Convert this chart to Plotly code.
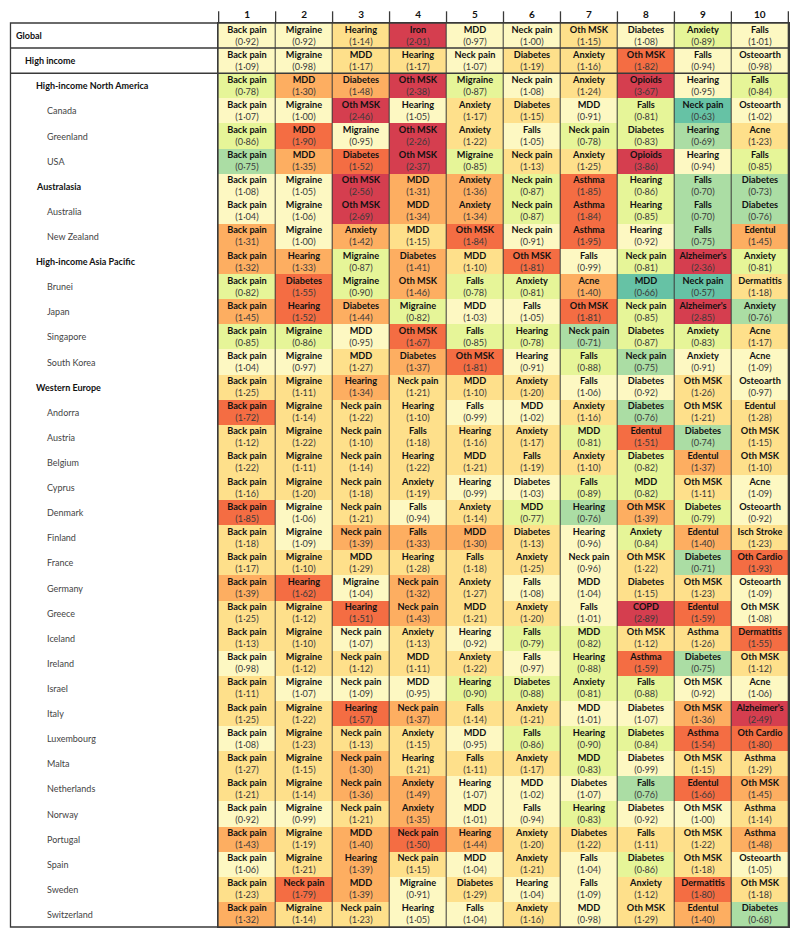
import numpy as np
import plotly.graph_objects as go

rows = [
    "Global", "High income", "High-income North America", "Canada", "Greenland", "USA",
    "Australasia", "Australia", "New Zealand", "High-income Asia Pacific", "Brunei", "Japan",
    "Singapore", "South Korea", "Western Europe", "Andorra", "Austria", "Belgium", "Cyprus",
    "Denmark", "Finland", "France", "Germany", "Greece", "Iceland", "Ireland", "Israel",
    "Italy", "Luxembourg", "Malta", "Netherlands", "Norway", "Portugal", "Spain", "Sweden",
    "Switzerland",
]
levels = [0, 1, 2, 3, 3, 3, 2, 3, 3, 2, 3, 3, 3, 3, 2] + [3] * 21

causes = [
    ["Back pain", "Migraine", "Hearing", "Iron", "MDD", "Neck pain", "Oth MSK", "Diabetes", "Anxiety", "Falls"],
    ["Back pain", "Migraine", "MDD", "Hearing", "Neck pain", "Diabetes", "Anxiety", "Oth MSK", "Falls", "Osteoarth"],
    ["Back pain", "MDD", "Diabetes", "Oth MSK", "Migraine", "Neck pain", "Anxiety", "Opioids", "Hearing", "Falls"],
    ["Back pain", "Migraine", "Oth MSK", "Hearing", "Anxiety", "Diabetes", "MDD", "Falls", "Neck pain", "Osteoarth"],
    ["Back pain", "MDD", "Migraine", "Oth MSK", "Anxiety", "Falls", "Neck pain", "Diabetes", "Hearing", "Acne"],
    ["Back pain", "MDD", "Diabetes", "Oth MSK", "Migraine", "Neck pain", "Anxiety", "Opioids", "Hearing", "Falls"],
    ["Back pain", "Migraine", "Oth MSK", "MDD", "Anxiety", "Neck pain", "Asthma", "Hearing", "Falls", "Diabetes"],
    ["Back pain", "Migraine", "Oth MSK", "MDD", "Anxiety", "Neck pain", "Asthma", "Hearing", "Falls", "Diabetes"],
    ["Back pain", "Migraine", "Anxiety", "MDD", "Oth MSK", "Neck pain", "Asthma", "Hearing", "Falls", "Edentul"],
    ["Back pain", "Hearing", "Migraine", "Diabetes", "MDD", "Oth MSK", "Falls", "Neck pain", "Alzheimer's", "Anxiety"],
    ["Back pain", "Diabetes", "Migraine", "Oth MSK", "Falls", "Anxiety", "Acne", "MDD", "Neck pain", "Dermatitis"],
    ["Back pain", "Hearing", "Diabetes", "Migraine", "MDD", "Falls", "Oth MSK", "Neck pain", "Alzheimer's", "Anxiety"],
    ["Back pain", "Migraine", "MDD", "Oth MSK", "Falls", "Hearing", "Neck pain", "Diabetes", "Anxiety", "Acne"],
    ["Back pain", "Migraine", "MDD", "Diabetes", "Oth MSK", "Hearing", "Falls", "Neck pain", "Anxiety", "Acne"],
    ["Back pain", "Migraine", "Hearing", "Neck pain", "MDD", "Anxiety", "Falls", "Diabetes", "Oth MSK", "Osteoarth"],
    ["Back pain", "Migraine", "Neck pain", "Hearing", "Falls", "MDD", "Anxiety", "Diabetes", "Oth MSK", "Edentul"],
    ["Back pain", "Migraine", "Neck pain", "Falls", "Hearing", "Anxiety", "MDD", "Edentul", "Diabetes", "Oth MSK"],
    ["Back pain", "Migraine", "Neck pain", "Hearing", "MDD", "Falls", "Anxiety", "Diabetes", "Edentul", "Oth MSK"],
    ["Back pain", "Migraine", "Neck pain", "Anxiety", "Hearing", "Diabetes", "Falls", "MDD", "Oth MSK", "Acne"],
    ["Back pain", "Migraine", "Neck pain", "Falls", "Anxiety", "MDD", "Hearing", "Oth MSK", "Diabetes", "Osteoarth"],
    ["Back pain", "Migraine", "Neck pain", "Falls", "MDD", "Diabetes", "Hearing", "Anxiety", "Edentul", "Isch Stroke"],
    ["Back pain", "Migraine", "MDD", "Hearing", "Falls", "Anxiety", "Neck pain", "Oth MSK", "Diabetes", "Oth Cardio"],
    ["Back pain", "Hearing", "Migraine", "Neck pain", "Anxiety", "Falls", "MDD", "Diabetes", "Oth MSK", "Osteoarth"],
    ["Back pain", "Migraine", "Hearing", "Neck pain", "MDD", "Anxiety", "Falls", "COPD", "Edentul", "Oth MSK"],
    ["Back pain", "Migraine", "Neck pain", "Anxiety", "Hearing", "Falls", "MDD", "Oth MSK", "Asthma", "Dermatitis"],
    ["Back pain", "Migraine", "Neck pain", "MDD", "Anxiety", "Falls", "Hearing", "Asthma", "Diabetes", "Oth MSK"],
    ["Back pain", "Migraine", "Neck pain", "MDD", "Hearing", "Diabetes", "Anxiety", "Falls", "Oth MSK", "Acne"],
    ["Back pain", "Migraine", "Hearing", "Neck pain", "Falls", "Anxiety", "MDD", "Diabetes", "Oth MSK", "Alzheimer's"],
    ["Back pain", "Migraine", "Neck pain", "Anxiety", "MDD", "Falls", "Hearing", "Diabetes", "Asthma", "Oth Cardio"],
    ["Back pain", "Migraine", "Neck pain", "Hearing", "Falls", "Anxiety", "MDD", "Diabetes", "Oth MSK", "Asthma"],
    ["Back pain", "Migraine", "Neck pain", "Anxiety", "Hearing", "MDD", "Diabetes", "Falls", "Edentul", "Oth MSK"],
    ["Back pain", "Migraine", "Neck pain", "Anxiety", "MDD", "Falls", "Hearing", "Diabetes", "Oth MSK", "Asthma"],
    ["Back pain", "Migraine", "MDD", "Neck pain", "Hearing", "Anxiety", "Diabetes", "Falls", "Oth MSK", "Asthma"],
    ["Back pain", "Migraine", "Hearing", "Neck pain", "MDD", "Anxiety", "Falls", "Diabetes", "Oth MSK", "Osteoarth"],
    ["Back pain", "Neck pain", "MDD", "Migraine", "Diabetes", "Hearing", "Falls", "Anxiety", "Dermatitis", "Oth MSK"],
    ["Back pain", "Migraine", "Neck pain", "Hearing", "Falls", "Anxiety", "MDD", "Oth MSK", "Edentul", "Diabetes"],
]

ratios = [
    [0.92, 0.92, 1.14, 2.01, 0.97, 1.00, 1.15, 1.08, 0.89, 1.01],
    [1.09, 0.98, 1.17, 1.17, 1.07, 1.19, 1.16, 1.82, 0.94, 0.98],
    [0.78, 1.30, 1.48, 2.38, 0.87, 1.08, 1.24, 3.67, 0.95, 0.84],
    [1.07, 1.00, 2.46, 1.05, 1.17, 1.15, 0.91, 0.81, 0.63, 1.02],
    [0.86, 1.90, 0.95, 2.26, 1.22, 1.05, 0.78, 0.83, 0.69, 1.23],
    [0.75, 1.35, 1.52, 2.37, 0.85, 1.13, 1.25, 3.86, 0.94, 0.85],
    [1.08, 1.05, 2.56, 1.31, 1.36, 0.87, 1.85, 0.86, 0.70, 0.73],
    [1.04, 1.06, 2.69, 1.34, 1.34, 0.87, 1.84, 0.85, 0.70, 0.76],
    [1.31, 1.00, 1.42, 1.15, 1.84, 0.91, 1.95, 0.92, 0.75, 1.45],
    [1.32, 1.33, 0.87, 1.41, 1.10, 1.81, 0.99, 0.81, 2.36, 0.81],
    [0.82, 1.55, 0.90, 1.46, 0.78, 0.81, 1.40, 0.66, 0.57, 1.18],
    [1.45, 1.52, 1.44, 0.82, 1.03, 1.05, 1.81, 0.85, 2.85, 0.76],
    [0.85, 0.86, 0.95, 1.67, 0.85, 0.78, 0.71, 0.87, 0.83, 1.17],
    [1.04, 0.97, 1.27, 1.37, 1.81, 0.91, 0.88, 0.75, 0.91, 1.09],
    [1.25, 1.11, 1.34, 1.21, 1.10, 1.20, 1.06, 0.92, 1.26, 0.97],
    [1.72, 1.14, 1.22, 1.10, 0.99, 1.02, 1.16, 0.76, 1.21, 1.28],
    [1.12, 1.22, 1.10, 1.18, 1.16, 1.17, 0.81, 1.51, 0.74, 1.15],
    [1.22, 1.11, 1.14, 1.22, 1.21, 1.19, 1.10, 0.82, 1.37, 1.10],
    [1.16, 1.20, 1.18, 1.19, 0.99, 1.03, 0.89, 0.82, 1.11, 1.09],
    [1.85, 1.06, 1.21, 0.94, 1.14, 0.77, 0.76, 1.39, 0.79, 0.92],
    [1.18, 1.09, 1.39, 1.33, 1.30, 1.13, 0.96, 0.84, 1.40, 1.23],
    [1.17, 1.10, 1.29, 1.28, 1.18, 1.25, 0.96, 1.22, 0.71, 1.93],
    [1.39, 1.62, 1.04, 1.32, 1.27, 1.08, 1.04, 1.15, 1.23, 1.09],
    [1.25, 1.12, 1.51, 1.43, 1.21, 1.20, 1.01, 2.89, 1.59, 1.08],
    [1.13, 1.10, 1.07, 1.13, 0.92, 0.79, 0.82, 1.12, 1.26, 1.55],
    [0.98, 1.12, 1.12, 1.11, 1.22, 0.97, 0.88, 1.59, 0.75, 1.12],
    [1.11, 1.07, 1.09, 0.95, 0.90, 0.88, 0.81, 0.88, 0.92, 1.06],
    [1.25, 1.22, 1.57, 1.37, 1.14, 1.21, 1.01, 1.07, 1.36, 2.49],
    [1.08, 1.23, 1.13, 1.15, 0.95, 0.86, 0.90, 0.84, 1.54, 1.80],
    [1.27, 1.15, 1.30, 1.21, 1.11, 1.17, 0.83, 0.99, 1.15, 1.29],
    [1.21, 1.14, 1.36, 1.49, 1.07, 1.02, 1.07, 0.76, 1.66, 1.45],
    [0.92, 0.99, 1.21, 1.35, 1.01, 0.94, 0.83, 0.92, 1.00, 1.14],
    [1.43, 1.19, 1.40, 1.50, 1.44, 1.20, 1.22, 1.11, 1.22, 1.48],
    [1.06, 1.21, 1.39, 1.15, 1.04, 1.21, 1.04, 0.86, 1.18, 1.05],
    [1.23, 1.79, 1.39, 0.91, 1.29, 1.04, 1.09, 1.12, 1.80, 1.18],
    [1.32, 1.14, 1.23, 1.05, 1.04, 1.16, 0.98, 1.29, 1.40, 0.68],
]

ranks = [str(i) for i in range(1, 11)]

# ratio bins (symmetric on log scale) and Spectral colours
bin_edges = [0.5, 1 / 1.5, 1 / 1.3, 1 / 1.1, 1.1, 1.3, 1.5, 2.0]
bin_colors = ["#3288bd", "#66c2a5", "#abdda4", "#e6f598", "#fdf8c2",
              "#fee08b", "#fdae61", "#f46d43", "#d53e4f"]

z = np.digitize(np.array(ratios), bin_edges)
n = len(bin_colors)
colorscale = []
for i, c in enumerate(bin_colors):
    colorscale.append([i / n, c])
    colorscale.append([(i + 1) / n, c])

cell_text = [
    [f"<b>{c}</b><br><span style='color:#3a3a3a'>({v:.2f})</span>".replace(".", "·")
     for c, v in zip(crow, vrow)]
    for crow, vrow in zip(causes, ratios)
]

# page body has an 8px margin, so the figure is laid out in page coords minus 8
off = 8
W, H = 800 - 2 * off, 939 - 2 * off
left, right, top, bottom = 218.3 - off, 788.7 - off, 22.7 - off, 927.3 - off
frame_left = 11 - off
pw = right - left
ph = bottom - top
line_col = "#3a3a3a"
font_fam = "Lato, 'Open Sans', sans-serif"

fig = go.Figure(
    go.Heatmap(
        z=z,
        x=ranks,
        y=rows,
        text=cell_text,
        texttemplate="%{text}",
        textfont=dict(size=9.2, color="#111", family=font_fam),
        colorscale=colorscale,
        zmin=0,
        zmax=n,
        showscale=False,
        xgap=1,
        ygap=0,
        hoverinfo="skip",
    )
)

# row labels with indentation by level
indent_px = [15, 24, 34.7, 45]
for name, lvl in zip(rows, levels):
    bold = lvl < 3
    fig.add_annotation(
        x=(indent_px[lvl] - off - left) / pw,
        xref="paper",
        y=name,
        yref="y",
        text=f"<b>{name}</b>" if bold else name,
        showarrow=False,
        xanchor="left",
        font=dict(size=9, color="#111" if bold else "#444", family=font_fam),
    )

# outer frame of the table
fig.add_shape(type="rect", xref="paper", yref="paper",
              x0=(frame_left - left) / pw, x1=1, y0=0, y1=1,
              line=dict(color=line_col, width=1.3))
# separators under Global and High income
for yb in [0.5, 1.5]:
    fig.add_shape(type="line", xref="paper", yref="y",
                  x0=(frame_left - left) / pw, x1=1, y0=yb, y1=yb,
                  line=dict(color=line_col, width=1.5))
# short header dividers above the column numbers
for xb in np.arange(-0.5, 10, 1.0):
    fig.add_shape(type="line", xref="x", yref="paper",
                  x0=xb, x1=xb, y0=1, y1=1 + 11.7 / ph,
                  line=dict(color=line_col, width=1.3))

fig.update_xaxes(
    side="top",
    automargin=False,
    showgrid=False,
    zeroline=False,
    ticks="",
    tickfont=dict(size=10, color="#111", family=font_fam),
    tickprefix="<b>",
    ticksuffix="</b>",
    showline=True,
    mirror=True,
    linecolor=line_col,
    linewidth=1.3,
)
fig.update_yaxes(
    autorange="reversed",
    automargin=False,
    showgrid=False,
    zeroline=False,
    showticklabels=False,
    ticks="",
    showline=True,
    mirror=True,
    linecolor=line_col,
    linewidth=1.3,
)
fig.update_layout(
    width=W,
    height=H,
    margin=dict(l=left, r=W - right, t=top, b=H - bottom, pad=0),
    plot_bgcolor=line_col,
    paper_bgcolor="white",
    font=dict(family=font_fam),
)

fig.write_html("out.html")
